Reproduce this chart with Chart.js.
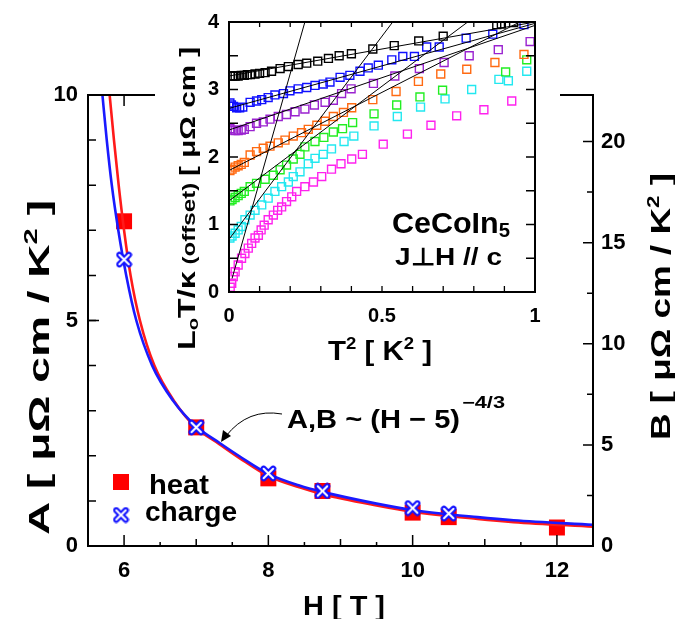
<!DOCTYPE html>
<html><head><meta charset="utf-8">
<script src="https://cdn.jsdelivr.net/npm/chart.js@4.4.1/dist/chart.umd.min.js"></script>
<style>
body{margin:0;background:#fff}
#wrap{position:relative;width:675px;height:619px;overflow:hidden}
canvas{position:absolute;left:0;top:0}
</style>
</head><body>
<div id="wrap">
<canvas id="main" width="675" height="619"></canvas>
<canvas id="inset" width="405" height="370" style="left:155px;top:0"></canvas>
</div>
<script>
// ---------------- main panel data ----------------
const heatH   = [6, 7, 8, 8.75, 10, 10.5, 12];
const heatA   = [7.2, 2.63, 1.5, 1.22, 0.74, 0.64, 0.41];
const chargeH = [6, 7, 8, 8.75, 10, 10.5];
const chargeA = [6.35, 2.63, 1.61, 1.22, 0.84, 0.72];
// fit curves
const redFitH  = [5.80, 5.86, 5.925, 6.0, 6.09, 6.22, 6.42, 6.7, 7.0, 7.32, 7.6, 8.0, 8.43, 8.75, 9.5, 10, 10.9, 11.4, 12.5];
const redFitA  = [10, 9, 8, 7, 6, 5, 4, 3.2, 2.62, 2.26, 1.95, 1.55, 1.3, 1.15, 0.9, 0.76, 0.6, 0.53, 0.43];
const blueFitH = [5.70, 5.76, 5.83, 5.92, 6.03, 6.17, 6.39, 6.68, 7.0, 7.32, 7.6, 8.0, 8.43, 8.75, 9.5, 10, 10.9, 11.4, 12.5];
const blueFitA = [10, 9, 8, 7, 6, 5, 4, 3.22, 2.65, 2.29, 1.99, 1.6, 1.34, 1.2, 0.94, 0.8, 0.64, 0.57, 0.47];
const xTickLabels  = [6, 8, 10, 12];
const yTickLabels  = [0, 5, 10];
const y2TickLabels = [0, 5, 10, 15, 20];

// ---------------- inset data (T^2 , L0T/kappa offset) ----------------
const blackT = [0.005,0.012,0.02,0.03,0.04,0.05,0.06,0.07,0.085,0.10,0.118,0.139,0.167,0.194,0.226,0.254,0.29,0.325,0.36,0.40,0.47,0.54,0.62,0.70,0.875,0.89,0.93];
const blackV = [3.2,3.2,3.2,3.2,3.21,3.21,3.22,3.22,3.23,3.24,3.25,3.27,3.31,3.34,3.37,3.39,3.42,3.46,3.50,3.53,3.60,3.65,3.72,3.79,3.96,3.97,3.99];
const blueT  = [0.003,0.008,0.015,0.025,0.035,0.045,0.069,0.09,0.107,0.128,0.150,0.178,0.199,0.226,0.254,0.281,0.308,0.330,0.363,0.395,0.428,0.455,0.488,0.532,0.568,0.606,0.646,0.687,0.775,0.862,0.964];
const blueV  = [2.8,2.77,2.75,2.73,2.73,2.74,2.81,2.83,2.85,2.88,2.92,2.94,2.98,3.01,3.03,3.06,3.08,3.11,3.18,3.21,3.27,3.32,3.36,3.44,3.49,3.49,3.63,3.63,3.76,3.82,3.96];
const purpT  = [0.003,0.01,0.02,0.03,0.04,0.05,0.069,0.09,0.112,0.134,0.161,0.188,0.216,0.248,0.279,0.314,0.341,0.368,0.399,0.472,0.542,0.622,0.703,0.785,0.880,0.984];
const purpV  = [2.42,2.40,2.39,2.39,2.40,2.41,2.45,2.50,2.52,2.56,2.60,2.63,2.67,2.71,2.77,2.81,2.84,2.94,3.01,3.09,3.20,3.31,3.40,3.50,3.59,3.71];
const orngT  = [0.003,0.01,0.02,0.03,0.04,0.05,0.069,0.09,0.112,0.134,0.161,0.183,0.21,0.237,0.259,0.287,0.314,0.341,0.374,0.401,0.470,0.546,0.619,0.692,0.777,0.869,0.964];
const orngV  = [1.80,1.82,1.85,1.87,1.89,1.92,2.03,2.08,2.13,2.16,2.21,2.25,2.31,2.36,2.41,2.47,2.53,2.60,2.66,2.73,2.85,2.97,3.12,3.23,3.30,3.40,3.52];
const grnT   = [0.003,0.01,0.02,0.03,0.04,0.05,0.069,0.09,0.118,0.145,0.167,0.188,0.21,0.232,0.248,0.281,0.31,0.341,0.371,0.404,0.474,0.548,0.624,0.698,0.904,0.973];
const grnV   = [1.35,1.37,1.40,1.43,1.46,1.49,1.56,1.61,1.67,1.73,1.81,1.88,1.97,2.04,2.15,2.23,2.29,2.37,2.42,2.51,2.64,2.77,2.89,2.99,3.26,3.44];
const cyanT  = [0.003,0.01,0.02,0.03,0.04,0.052,0.069,0.085,0.107,0.128,0.150,0.172,0.194,0.210,0.232,0.259,0.281,0.308,0.335,0.376,0.408,0.474,0.550,0.626,0.706,0.793,0.882,0.913,0.973];
const cyanV  = [0.80,0.83,0.87,0.92,0.97,1.07,1.14,1.21,1.29,1.39,1.49,1.56,1.63,1.71,1.78,1.90,1.98,2.04,2.12,2.23,2.31,2.46,2.60,2.74,2.86,3.00,3.15,3.13,3.27];
const magT   = [0.004,0.009,0.014,0.02,0.03,0.041,0.052,0.063,0.074,0.085,0.096,0.105,0.115,0.128,0.145,0.159,0.172,0.188,0.205,0.221,0.248,0.276,0.303,0.335,0.366,0.401,0.436,0.504,0.583,0.66,0.744,0.833,0.924];
const magV   = [0.07,0.13,0.23,0.30,0.40,0.50,0.57,0.65,0.72,0.80,0.84,0.92,0.99,1.07,1.14,1.21,1.26,1.34,1.41,1.49,1.56,1.63,1.71,1.82,1.90,1.97,2.04,2.19,2.34,2.47,2.61,2.70,2.83];
// straight T^2 fit lines: [x0, y0, x1, y1]
const fitLines = [
  [0, 3.2, 1, 4.0],
  [0, 2.72, 1, 3.98],
  [0, 2.40, 1, 3.95],
  [0, 1.80, 0.95, 4.0],
  [0, 1.35, 0.78, 4.0],
  [0, 0.78, 0.535, 4.0],
  [0.01, 0.2, 0.248, 4.0]
];
const insetXTicks = [0, 0.5, 1];
const insetYTicks = [0, 1, 2, 3, 4];

const FAM = '"Liberation Sans", Arial, Helvetica, sans-serif';
const zip = (a, b) => a.map((v, i) => ({x: v, y: b[i]}));

// cross marker for "charge"
function crossImg(sz) {
  const c = document.createElement('canvas'); c.width = sz; c.height = sz;
  const g = c.getContext('2d'); const m = sz * 0.22, M = sz - m;
  g.lineCap = 'round';
  g.strokeStyle = '#1010ff'; g.lineWidth = sz * 0.36;
  g.beginPath(); g.moveTo(m, m); g.lineTo(M, M); g.moveTo(M, m); g.lineTo(m, M); g.stroke();
  g.strokeStyle = '#ffffff'; g.lineWidth = sz * 0.12;
  g.beginPath(); g.moveTo(m, m); g.lineTo(M, M); g.moveTo(M, m); g.lineTo(m, M); g.stroke();
  return c;
}
const CROSS = crossImg(17);

// draw text parts fitted to a span along its direction
function fitText(ctx, parts, x, y, rot, span) {
  ctx.save();
  let total = 0;
  parts.forEach(p => { ctx.font = p.font; p.w = ctx.measureText(p.t).width; total += p.w; });
  const s = span ? span / total : 1;
  ctx.translate(x, y); ctx.rotate(rot); ctx.scale(s, 1);
  ctx.fillStyle = '#000'; ctx.textBaseline = 'alphabetic'; ctx.textAlign = 'left';
  let cx = 0;
  parts.forEach(p => { ctx.font = p.font; ctx.fillText(p.t, cx, p.dy || 0); cx += p.w; });
  ctx.restore();
}
function tickSet(ctx, scale, vals, edge, len, dir, horiz) {
  ctx.beginPath();
  vals.forEach(v => {
    const p = scale.getPixelForValue(v);
    if (horiz) { ctx.moveTo(p, edge); ctx.lineTo(p, edge + dir * len); }
    else { ctx.moveTo(edge, p); ctx.lineTo(edge + dir * len, p); }
  });
  ctx.stroke();
}
const range = (a, b, st) => { const r = []; for (let v = a; v <= b + 1e-9; v += st) r.push(+v.toFixed(4)); return r; };

// ---------------- main chart ----------------
const mainDeco = {
  id: 'mainDeco',
  afterDraw(ch) {
    const ctx = ch.ctx, a = ch.chartArea, sx = ch.scales.x, sy = ch.scales.y, sy2 = ch.scales.y2;
    ctx.save();
    ctx.strokeStyle = '#000'; ctx.lineWidth = 2;
    ctx.strokeRect(a.left, a.top, a.right - a.left, a.bottom - a.top);
    ctx.lineWidth = 1.5;
    const half = range(6.5, 12, 1), mid = [7, 9, 11];
    [[a.bottom, -1], [a.top, 1]].forEach(([e, d]) => {
      tickSet(ctx, sx, xTickLabels, e, 11, d, true);
      tickSet(ctx, sx, mid, e, 7, d, true);
      tickSet(ctx, sx, half, e, 4, d, true);
    });
    tickSet(ctx, sy, range(1, 9, 1), a.left, 8, 1, false);
    tickSet(ctx, sy, [5], a.left, 11, 1, false);
    tickSet(ctx, sy2, [5, 10, 15, 20], a.right, 10, -1, false);
    tickSet(ctx, sy2, [2.5, 7.5, 12.5, 17.5], a.right, 6, -1, false);
    // axis titles
    const B = 'bold ';
    fitText(ctx, [{t: 'H [ T ]', font: B + '28px ' + FAM}], 303, 615, 0, 82);
    const tparts = (L, fs) => [
      {t: L + ' [ μΩ cm / K', font: B + fs + 'px ' + FAM},
      {t: '2', font: B + Math.round(fs * 0.62) + 'px ' + FAM, dy: -Math.round(fs * 0.4)},
      {t: ' ]', font: B + fs + 'px ' + FAM}];
    fitText(ctx, tparts('A', 30), 49, 535, -Math.PI / 2, 335);
    fitText(ctx, tparts('B', 28), 670, 440, -Math.PI / 2, 267);
    // legend
    ctx.fillStyle = '#ff0000'; ctx.fillRect(113, 474, 16, 16);
    ctx.drawImage(CROSS, 121 - 8.5, 515 - 8.5);
    fitText(ctx, [{t: 'heat', font: B + '28px ' + FAM}], 149, 494, 0, 60);
    fitText(ctx, [{t: 'charge', font: B + '28px ' + FAM}], 145, 521, 0, 92);
    // annotation
    fitText(ctx, [{t: 'A,B ~ (H − 5)', font: B + '26px ' + FAM}], 287, 428, 0, 173);
    fitText(ctx, [{t: '−4/3', font: B + '16px ' + FAM}], 462, 408, 0, 43);
    ctx.strokeStyle = '#000'; ctx.lineWidth = 1;
    ctx.beginPath(); ctx.moveTo(282, 414); ctx.quadraticCurveTo(248, 408, 226, 436); ctx.stroke();
    ctx.fillStyle = '#000';
    ctx.beginPath(); ctx.moveTo(221, 442); ctx.lineTo(223, 430); ctx.lineTo(231, 436); ctx.closePath(); ctx.fill();
    ctx.restore();
  }
};

const tickFont = {family: FAM, size: 22, weight: 'bold'};
new Chart(document.getElementById('main'), {
  type: 'scatter',
  data: {datasets: [
    {label: 'charge', data: zip(chargeH, chargeA), pointStyle: CROSS, pointRadius: 8, showLine: false},
    {label: 'charge fit', data: zip(blueFitH, blueFitA), showLine: true, borderColor: '#1a1aff', borderWidth: 2.6, pointRadius: 0, cubicInterpolationMode: 'monotone'},
    {label: 'heat fit', data: zip(redFitH, redFitA), showLine: true, borderColor: '#ff1a1a', borderWidth: 2.6, pointRadius: 0, cubicInterpolationMode: 'monotone'},
    {label: 'heat', data: zip(heatH, heatA), pointStyle: 'rect', pointRadius: 11.3, backgroundColor: '#ff0000', borderColor: '#ff0000', borderWidth: 0, showLine: false}
  ]},
  options: {
    responsive: false, animation: false, devicePixelRatio: 1,
    layout: {padding: {top: 95, left: 0, right: 0, bottom: 0}},
    plugins: {legend: {display: false}, tooltip: {enabled: false}},
    scales: {
      x: {type: 'linear', min: 5.5, max: 12.5, grid: {display: false, drawTicks: false}, border: {display: false},
          afterBuildTicks: s => { s.ticks = xTickLabels.map(v => ({value: v})); },
          afterFit: s => { s.height = 73; },
          ticks: {font: tickFont, color: '#000', padding: 12, maxRotation: 0, autoSkip: false}},
      y: {type: 'linear', min: 0, max: 10, grid: {display: false, drawTicks: false}, border: {display: false},
          afterBuildTicks: s => { s.ticks = yTickLabels.map(v => ({value: v})); },
          afterFit: s => { s.width = 88; },
          ticks: {font: tickFont, color: '#000', padding: 10}},
      y2: {type: 'linear', position: 'right', min: 0, max: 22.3, grid: {display: false, drawTicks: false}, border: {display: false},
          afterBuildTicks: s => { s.ticks = y2TickLabels.map(v => ({value: v})); },
          afterFit: s => { s.width = 82; },
          ticks: {font: tickFont, color: '#000', padding: 8}}
    }
  },
  plugins: [mainDeco]
});

// ---------------- inset chart ----------------
const insetDeco = {
  id: 'insetDeco',
  beforeDraw(ch) {
    const ctx = ch.ctx; ctx.save(); ctx.fillStyle = '#fff'; ctx.fillRect(0, 0, ch.width, 330); ctx.restore();
  },
  afterDraw(ch) {
    const ctx = ch.ctx, a = ch.chartArea, sx = ch.scales.x, sy = ch.scales.y;
    ctx.save();
    ctx.strokeStyle = '#000'; ctx.lineWidth = 2;
    ctx.strokeRect(a.left, a.top, a.right - a.left, a.bottom - a.top);
    ctx.lineWidth = 1.3;
    const xt = range(0.1, 0.9, 0.1), yt = range(0.5, 3.5, 0.5);
    tickSet(ctx, sx, xt, a.bottom, 6, -1, true);
    tickSet(ctx, sx, xt, a.top, 5, 1, true);
    tickSet(ctx, sy, yt, a.left, 9, 1, false);
    tickSet(ctx, sy, yt, a.right, 9, -1, false);
    const B = 'bold ';
    fitText(ctx, [{t: 'T', font: B + '27px ' + FAM}, {t: '2', font: B + '17px ' + FAM, dy: -11},
                  {t: ' [ K', font: B + '27px ' + FAM}, {t: '2', font: B + '17px ' + FAM, dy: -11},
                  {t: ' ]', font: B + '27px ' + FAM}], 328 - 155, 360, 0, 104);
    fitText(ctx, [{t: 'L', font: B + '24px ' + FAM}, {t: 'o', font: B + '15px ' + FAM, dy: 3},
                  {t: 'T/κ', font: B + '24px ' + FAM}, {t: ' (offset) ', font: B + '18px ' + FAM},
                  {t: '[ μΩ cm ]', font: B + '22px ' + FAM}], 195 - 155, 350, -Math.PI / 2, 303);
    fitText(ctx, [{t: 'CeCoIn', font: B + '30px ' + FAM}, {t: '5', font: B + '20px ' + FAM, dy: 4}], 392 - 155, 233, 0, 118);
    fitText(ctx, [{t: 'J⊥H // c', font: B + '24px ' + FAM}], 395 - 155, 265, 0, 107);
    ctx.restore();
  }
};
const sq = (col, T, V) => ({data: zip(T, V), pointStyle: 'rect', pointRadius: 5.6, borderColor: col, borderWidth: 1.4, backgroundColor: 'rgba(0,0,0,0)', showLine: false});
const fitSets = fitLines.map(l => ({data: [{x: l[0], y: l[1]}, {x: l[2], y: l[3]}], showLine: true, borderColor: '#000', borderWidth: 1, pointRadius: 0}));
const insetTick = {family: FAM, size: 20, weight: 'bold'};
new Chart(document.getElementById('inset'), {
  type: 'scatter',
  data: {datasets: [
    ...fitSets,
    sq('#000000', blackT, blackV),
    sq('#1010ff', blueT, blueV),
    sq('#9a22d0', purpT, purpV),
    sq('#ff6a12', orngT, orngV),
    sq('#22ee22', grnT, grnV),
    sq('#22e8f0', cyanT, cyanV),
    sq('#ff22ee', magT, magV)
  ]},
  options: {
    responsive: false, animation: false, devicePixelRatio: 1,
    layout: {padding: {top: 22, left: 0, right: 25, bottom: 0}},
    plugins: {legend: {display: false}, tooltip: {enabled: false}},
    scales: {
      x: {type: 'linear', min: 0, max: 1, grid: {display: false, drawTicks: false}, border: {display: false},
          afterBuildTicks: s => { s.ticks = insetXTicks.map(v => ({value: v})); },
          afterFit: s => { s.height = 78; },
          ticks: {font: insetTick, color: '#000', padding: 12, maxRotation: 0, autoSkip: false, callback: v => String(v)}},
      y: {type: 'linear', min: 0, max: 4, grid: {display: false, drawTicks: false}, border: {display: false},
          afterBuildTicks: s => { s.ticks = insetYTicks.map(v => ({value: v})); },
          afterFit: s => { s.width = 74; },
          ticks: {font: insetTick, color: '#000', padding: 10}}
    }
  },
  plugins: [insetDeco]
});
</script>
</body></html>
